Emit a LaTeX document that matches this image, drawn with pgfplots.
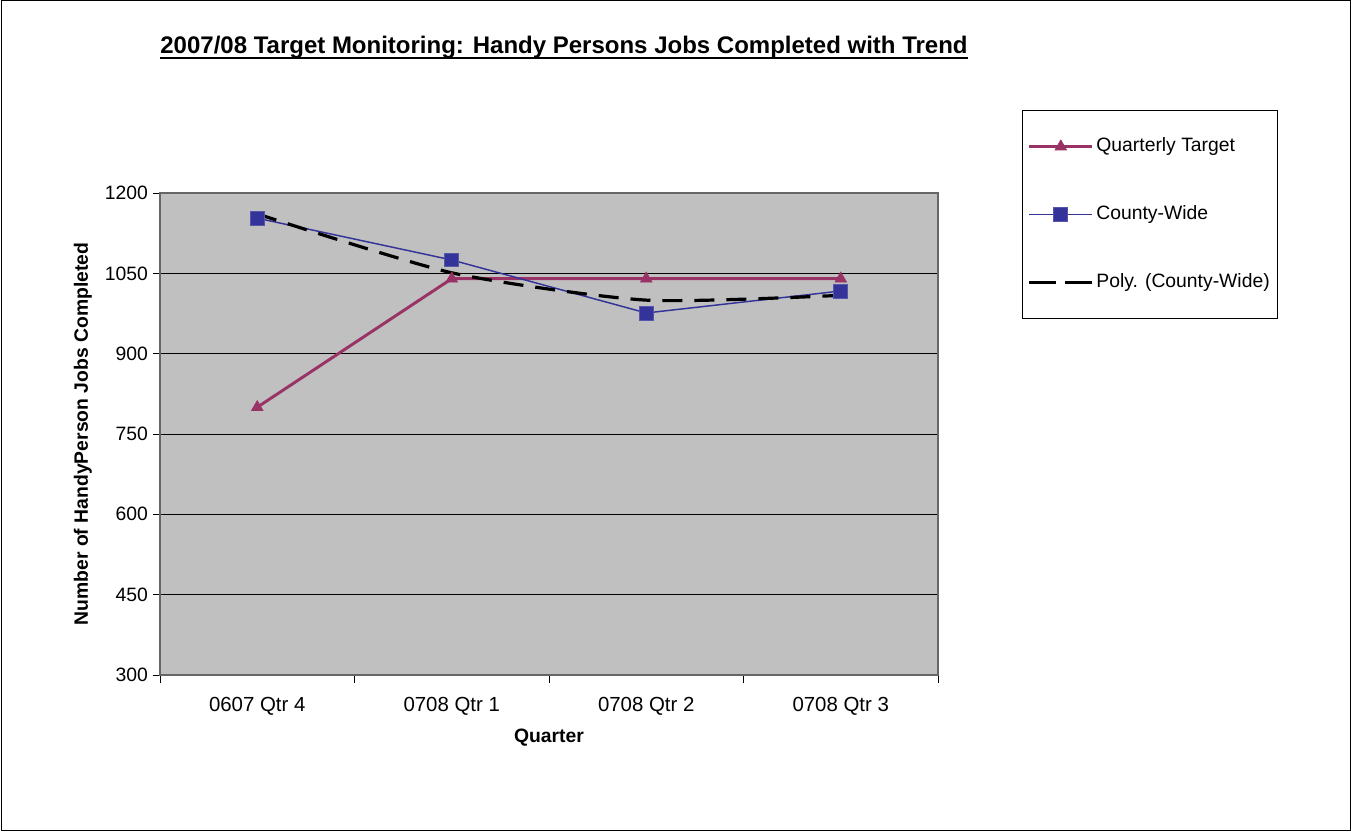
\documentclass[border=0pt]{standalone}
\usepackage{fontspec}
\setmainfont{Liberation Sans}
\usepackage{pgfplots}
\pgfplotsset{compat=1.18}
\definecolor{tgt}{HTML}{993366}
\definecolor{cw}{HTML}{333399}
\definecolor{cwedge}{HTML}{5555AA}
\definecolor{plotbg}{HTML}{C0C0C0}
\newcommand{\lab}{\fontsize{14.5}{17}\selectfont}
\begin{document}
\begin{tikzpicture}
\begin{scope}[x=0.75pt,y=-0.75pt]
\useasboundingbox (0,0) rectangle (1351,831);
\fill[white] (0,0) rectangle (1351,831);
\draw[line width=0.75pt] (1,1) rectangle (1350,830);
\node[inner sep=0pt, font=\bfseries\fontsize{18}{21}\selectfont, anchor=base] (t) at (564,54) {2007/08 Target Monitoring: Handy Persons Jobs Completed with Trend};
\draw[line width=1.6pt] ([yshift=-3pt]t.base west) -- ([yshift=-3pt]t.base east);
\end{scope}
\begin{axis}[
  at={(120pt,-506.25pt)}, anchor=south west,
  scale only axis, width=583.5pt, height=361.5pt,
  xmin=-0.5, xmax=3.5, ymin=300, ymax=1200,
  xtick={0,1,2,3},
  xticklabels={0607 Qtr 4,0708 Qtr 1,0708 Qtr 2,0708 Qtr 3},
  minor xtick={-0.5,0.5,1.5,2.5,3.5},
  ytick={300,450,600,750,900,1050,1200},
  tick align=outside,
  major x tick style={draw=none},
  minor tick length=6pt,
  major tick length=5.5pt,
  tick style={black, line width=0.75pt},
  xtick pos=bottom, ytick pos=left,
  ymajorgrids,
  major grid style={black, line width=0.75pt},
  axis background/.style={fill=plotbg},
  axis line style={black!60, line width=0.9pt},
  /pgf/number format/assume math mode=true,
  /pgf/number format/1000 sep={},
  ticklabel style={font=\lab},
  xticklabel style={yshift=-8pt, font=\fontsize{15.3}{17}\selectfont},
  xlabel={Quarter},
  ylabel={Number of HandyPerson Jobs Completed},
  xlabel style={font=\bfseries\fontsize{14.5}{17}\selectfont, at={(axis description cs:0.5,0)}, anchor=center, yshift=-47.25pt},
  ylabel style={font=\bfseries\fontsize{14.5}{17}\selectfont, at={(axis description cs:0,0.5)}, anchor=center, yshift=57.75pt},
  legend image code/.code={\draw[mark repeat=2,mark phase=2,#1] plot coordinates {(0pt,0pt) (23.5pt,0pt) (47pt,0pt)};},
  legend style={at={(1.108,1.172)}, anchor=north west, draw=black, line width=0.75pt, fill=white,
    inner xsep=4pt, inner ysep=20pt, row sep=37pt, font=\lab,
    nodes={inner xsep=2pt, inner ysep=0pt, text height=11pt, text depth=3pt}},
  legend cell align=left,
]
\addplot[tgt, line width=2.2pt, mark=triangle*, mark size=5pt, mark options={solid, fill=tgt, draw=tgt, line width=0.5pt}]
  coordinates {(0,800) (1,1040) (2,1040) (3,1040)};
\addlegendentry{Quarterly Target}
\addplot[cw, line width=1.1pt, mark=square*, mark size=5.2pt, mark options={solid, fill=cw, draw=cwedge, line width=0.6pt}]
  coordinates {(0,1153) (1,1075) (2,976) (3,1017)};
\addlegendentry{County-Wide}
\addplot[black, line width=2.4pt, dash pattern=on 15pt off 9pt, smooth, tension=0.4,
  legend image code/.code={\draw[black, line width=2.4pt, dash pattern=on 20pt off 7pt] (0pt,0pt) -- (47pt,0pt);}]
  coordinates {(0,1161) (1,1051) (2,1000) (3,1009)};
\addlegendentry{Poly. (County-Wide)}
\end{axis}
\end{tikzpicture}
\end{document}
